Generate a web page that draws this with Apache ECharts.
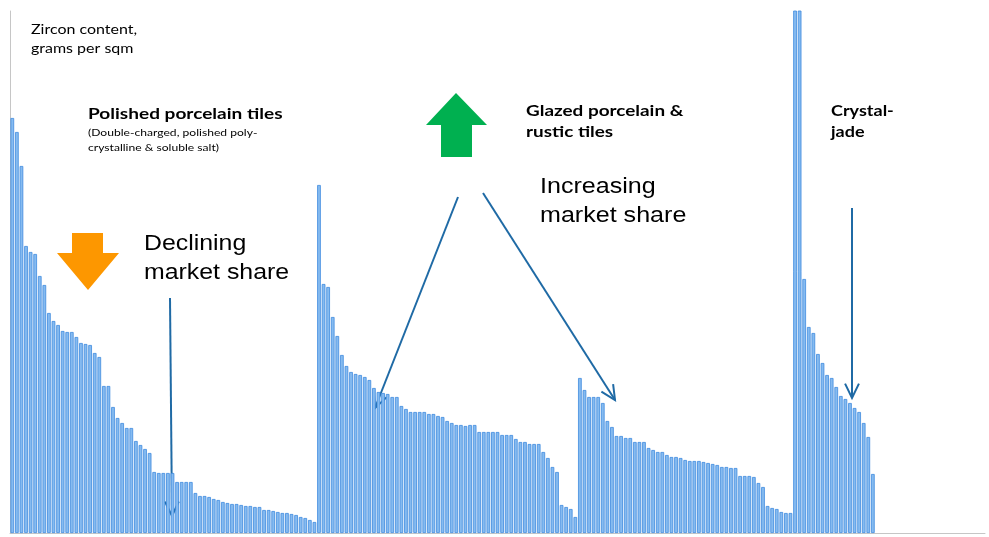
<!DOCTYPE html>
<html>
<head>
<meta charset="utf-8">
<script src="https://cdn.jsdelivr.net/npm/echarts@6/dist/echarts.min.js"></script>
<style>html,body{margin:0;padding:0;background:#fff}#c{width:989px;height:537px}</style>
</head>
<body>
<div id="c"></div>
<script>
// Zircon content (grams per sqm, relative units), by tile group
const polished = [415,401,367,287,281,279,257,248,220,212,208,202,201,201,196,190,189,188,180,176,
  147,147,126,115,110,105,105,92,88,84,80,61,60,60,60,60,51,51,51,51,40,37,37,36,34,33,31,30,29,
  29,28,27,27,26,26,23,23,22,21,20,20,19,18,16,15,13,11];
const glazed = [348,249,246,216,197,178,167,161,159,158,156,153,145,141,140,139,136,136,127,124,
  121,121,121,121,119,119,117,116,112,110,108,108,107,108,108,101,101,101,101,101,98,98,98,94,91,91,
  89,89,89,81,75,66,61,28,26,24,16];
const rustic = [155,143,136,136,136,130,112,106,97,97,95,95,91,91,91,85,83,81,81,78,76,76,75,73,
  72,72,72,71,70,69,68,66,66,65,65,57,57,57,56,50,46,27,25,24,21,20,20];
const crystal = [600,600,254,206,200,179,170,158,155,146,137,134,130,125,121,110,96,59];
const trailingEmpty = 24;

const values = [].concat(polished, glazed, rustic, crystal);
for (let i = 0; i < trailingEmpty; i++) values.push(null);
const categories = values.map((v, i) => String(i + 1));

const chart = echarts.init(document.getElementById('c'));

function arrowLine(x1, y1, x2, y2) {
  const ang = Math.atan2(y2 - y1, x2 - x1);
  const L = 16, a = Math.PI / 7;
  const p1 = [x2 - L * Math.cos(ang - a), y2 - L * Math.sin(ang - a)];
  const p2 = [x2 - L * Math.cos(ang + a), y2 - L * Math.sin(ang + a)];
  const style = { stroke: '#1f6aa5', lineWidth: 2, fill: null };
  return [
    { type: 'line', shape: { x1, y1, x2, y2 }, style },
    { type: 'polyline', shape: { points: [p1, [x2, y2], p2] }, style }
  ];
}

function label(x, y, text, font, lineHeight, sx) {
  return { type: 'text', x, y, scaleX: sx, originX: 0, originY: 0,
    style: { text, font, lineHeight, fill: '#000', textBaseline: 'top', textAlign: 'left' } };
}

const graphics = [
  label(31, 20, 'Zircon content,\ngrams per sqm', '13px Lato', 19, 1.23),
  label(88, 104, 'Polished porcelain tiles', 'bold 15px Lato', 20, 1.27),
  label(88, 125, '(Double-charged, polished poly-\ncrystalline & soluble salt)', '10px Lato', 15, 1.21),
  label(526, 101, 'Glazed porcelain &\nrustic tiles', 'bold 15px Lato', 21, 1.26),
  label(831, 101, 'Crystal-\njade', 'bold 15px Lato', 21, 1.2),
  label(144, 229, 'Declining\nmarket share', '22px "Liberation Sans"', 29, 1.13),
  label(540, 172, 'Increasing\nmarket share', '22px "Liberation Sans"', 29, 1.14),
  { type: 'polygon', shape: { points: [[72,233],[103,233],[103,253],[119,253],[88,290],[57,253],[72,253]] }, style: { fill: '#fd9700' } },
  { type: 'polygon', shape: { points: [[456,93],[487,125],[472,125],[472,157],[441,157],[441,125],[426,125]] }, style: { fill: '#00b050' } }
].concat(
  arrowLine(170, 298, 172, 516),
  arrowLine(458, 197, 375, 408),
  arrowLine(483, 193, 615, 400),
  arrowLine(852, 208, 852, 398)
);

chart.setOption({
  animation: false,
  backgroundColor: '#fff',
  grid: { left: 10, right: 4, top: 11, bottom: 4, containLabel: false },
  xAxis: {
    type: 'category', data: categories,
    axisLine: { show: true, lineStyle: { color: '#c6c6c6', width: 1 } },
    axisTick: { show: false }, axisLabel: { show: false }
  },
  yAxis: {
    type: 'value', min: 0, max: 522,
    axisLine: { show: true, lineStyle: { color: '#c6c6c6', width: 1 } },
    axisTick: { show: false }, axisLabel: { show: false }, splitLine: { show: false }
  },
  series: [{
    type: 'bar', data: values, clip: true,
    barCategoryGap: '20%',
    itemStyle: { color: '#86bbf0', borderColor: '#3f8ade', borderWidth: 0.8 }
  }],
  graphic: graphics
});
</script>
</body>
</html>
